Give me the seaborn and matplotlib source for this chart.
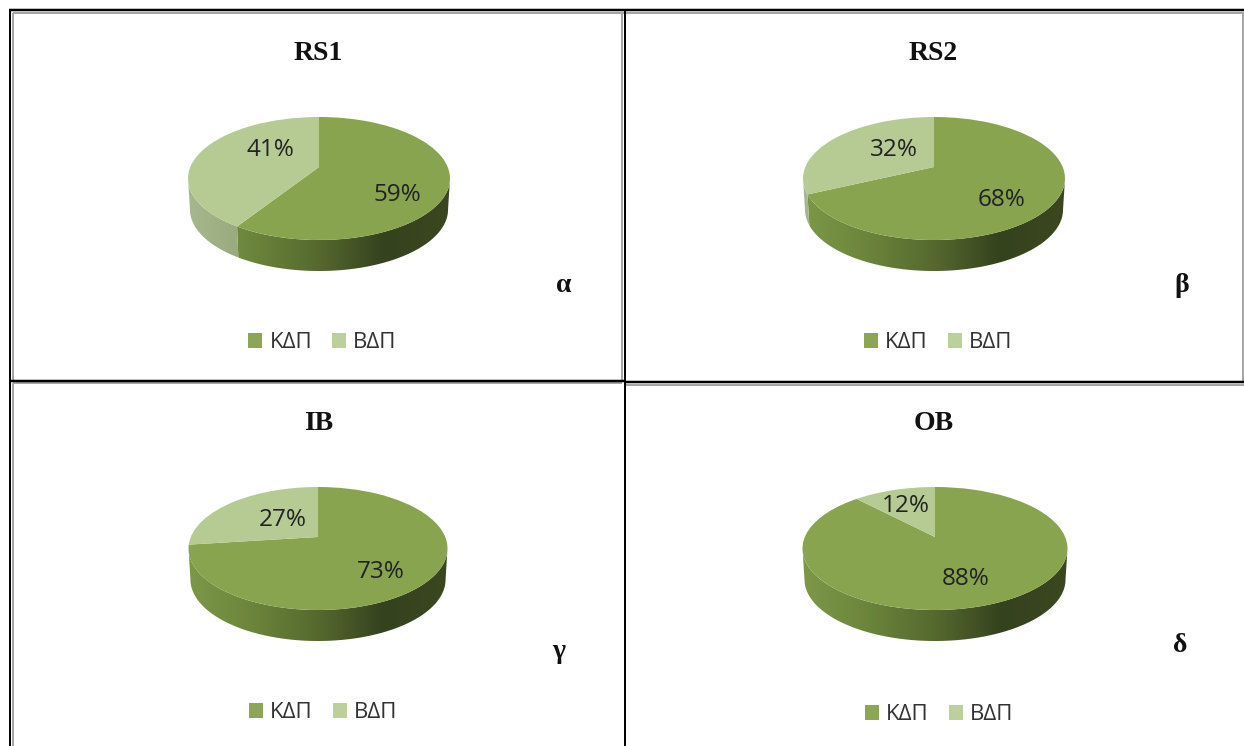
import numpy as np
import matplotlib
matplotlib.use("Agg")
import matplotlib.pyplot as plt
from matplotlib.patches import Patch, Polygon
from matplotlib.transforms import Transform
import seaborn as sns

# Chart data
panel_titles = ["RS1", "RS2", "IB", "OB"]
panel_letters = ["α", "β", "γ", "δ"]
series_names = ["ΚΔΠ", "ΒΔΠ"]
kdp_share = [59, 68, 73, 88]
bdp_share = [41, 32, 27, 12]

# Layout in pixels
pie_centers = [(319, 167), (934, 167), (318, 537), (935, 537)]
pie_half_widths = [131, 131, 129.5, 132.5]
title_pos = [(318, 54), (933, 54), (319, 423), (934, 423)]
letter_pos = [(564, 285), (1182, 285), (559, 652), (1180, 646)]
legend_pos = [(322.5, 343), (938, 343), (323, 713), (939, 715)]
kdp_label_pos = [(397, 195), (1002, 200), (381, 572), (966, 579)]
bdp_label_pos = [(270, 150), (894, 150), (283, 520), (906, 506)]

W, H = 1244, 746
TOP_RISE, FRONT_DROP, WALL_DEPTH = 50.0, 73.0, 31.0
TILT = (TOP_RISE - FRONT_DROP) / (TOP_RISE + FRONT_DROP)
SCALE_V = TOP_RISE * (1 - TILT)
SIDE_ANGLE = np.degrees(np.arcsin(-TILT))


class DiscProjection(Transform):
    """Perspective view of the unit disc, placed at a pixel position."""
    input_dims = output_dims = 2
    is_separable = False
    has_inverse = False

    def __init__(self, cx, cy, half_width):
        super().__init__()
        self.cx, self.cy = cx, cy
        self.a = half_width * np.sqrt(1 - TILT ** 2)

    def transform_non_affine(self, values):
        values = np.asarray(values, dtype=float)
        u, v = values[:, 0], values[:, 1]
        d = 1 - TILT * v
        return np.column_stack([self.cx + self.a * u / d, self.cy - SCALE_V * v / d])


sns.set_theme(style="white")
plt.rcParams["font.family"] = ["Open Sans", "DejaVu Sans"]

kdp_top, bdp_top = "#88A44E", "#B6CB93"
kdp_wall = sns.blend_palette(["#7C9847", "#6B843B", "#55692E", "#35421E", "#3A4720"], as_cmap=True)
bdp_wall = sns.blend_palette(["#A8B88E", "#94A67A", "#8A9C6C", "#8A9C6C", "#8A9C6C"], as_cmap=True)

fig = plt.figure(figsize=(W / 100, H / 100), dpi=100, facecolor="white")
ax = fig.add_axes([0, 0, 1, 1])


def add_wall(proj, half_width, lo, hi, cmap):
    """Shaded rim below the front arc between two angles."""
    lo, hi = max(lo, -180 + SIDE_ANGLE), min(hi, -SIDE_ANGLE)
    if hi <= lo:
        return
    t = np.radians(np.linspace(lo, hi, 120))
    top = proj.transform_non_affine(np.column_stack([np.cos(t), np.sin(t)]))
    bottom = top[::-1].copy()
    bottom[:, 0] = proj.cx + (bottom[:, 0] - proj.cx) * 0.985
    bottom[:, 1] += WALL_DEPTH
    outline = Polygon(np.vstack([top, bottom]), closed=True, transform=ax.transData,
                      facecolor="none", edgecolor="none")
    ax.add_patch(outline)
    shade = ax.imshow(np.linspace(0, 1, 256)[None, :], cmap=cmap, vmin=0, vmax=1, aspect="auto",
                      extent=(proj.cx - half_width, proj.cx + half_width,
                              proj.cy + 120, proj.cy - 60), zorder=1)
    shade.set_clip_path(outline)


for i, title in enumerate(panel_titles):
    cx, cy = pie_centers[i]
    hw = pie_half_widths[i]
    proj = DiscProjection(cx, cy, hw)
    split = 90 - 3.6 * kdp_share[i]

    add_wall(proj, hw, split, 90, kdp_wall)
    add_wall(proj, hw, -270, split, bdp_wall)

    wedges, _ = ax.pie([kdp_share[i], bdp_share[i]], colors=[kdp_top, bdp_top],
                       startangle=90, counterclock=False, wedgeprops={"linewidth": 0})
    for w in wedges:
        w.set_transform(proj + ax.transData)
        w.set_zorder(2)

    ax.text(*kdp_label_pos[i], f"{kdp_share[i]}%", fontsize=17.5, color="#222222",
            ha="center", va="center", zorder=3)
    ax.text(*bdp_label_pos[i], f"{bdp_share[i]}%", fontsize=17.5, color="#222222",
            ha="center", va="center", zorder=3)
    ax.text(*title_pos[i], title, fontsize=20, fontweight="bold", family="Liberation Serif",
            color="#111111", ha="center", va="center")
    ax.text(*letter_pos[i], panel_letters[i], fontsize=20, fontweight="bold",
            family="Liberation Serif", color="#111111", ha="center", va="center")

    lx, ly = legend_pos[i]
    fig.legend(handles=[Patch(facecolor="#8CA653", edgecolor="none"),
                        Patch(facecolor="#BBD09A", edgecolor="none")],
               labels=series_names, loc="center", bbox_to_anchor=(lx / W, 1 - ly / H),
               ncol=2, frameon=False, fontsize=16, labelcolor="#333333", handlelength=0.63,
               handleheight=0.63, handletextpad=0.32, columnspacing=0.9, borderpad=0,
               borderaxespad=0)


# Table rules: a black line with a grey companion
def rule(xs, ys, color, px=2.0):
    ax.plot(xs, ys, color=color, lw=px * 0.72, solid_capstyle="butt", zorder=4)


GREY = "#A6A6A6"
rule([13, 13], [13, 380], GREY)
rule([13, 13], [383, H], GREY)
rule([13, W], [13, 13], GREY)
rule([1243, 1243], [13, 381], GREY)
rule([13, 622], [383, 383], GREY)
rule([622, 622], [13, 380], GREY)
rule([626, W], [384.5, 384.5], GREY)
rule([10, 10], [9, H], "black")
rule([9, W], [10, 10], "black", 2.5)
rule([10, 624], [380.5, 380.5], "black", 2.5)
rule([624, W], [382, 382], "black", 2.5)
rule([624.5, 624.5], [10, H], "black")

ax.set_aspect("auto")
ax.set_xlim(0, W)
ax.set_ylim(H, 0)
ax.axis("off")

fig.savefig("out.png", dpi=100, facecolor="white")
